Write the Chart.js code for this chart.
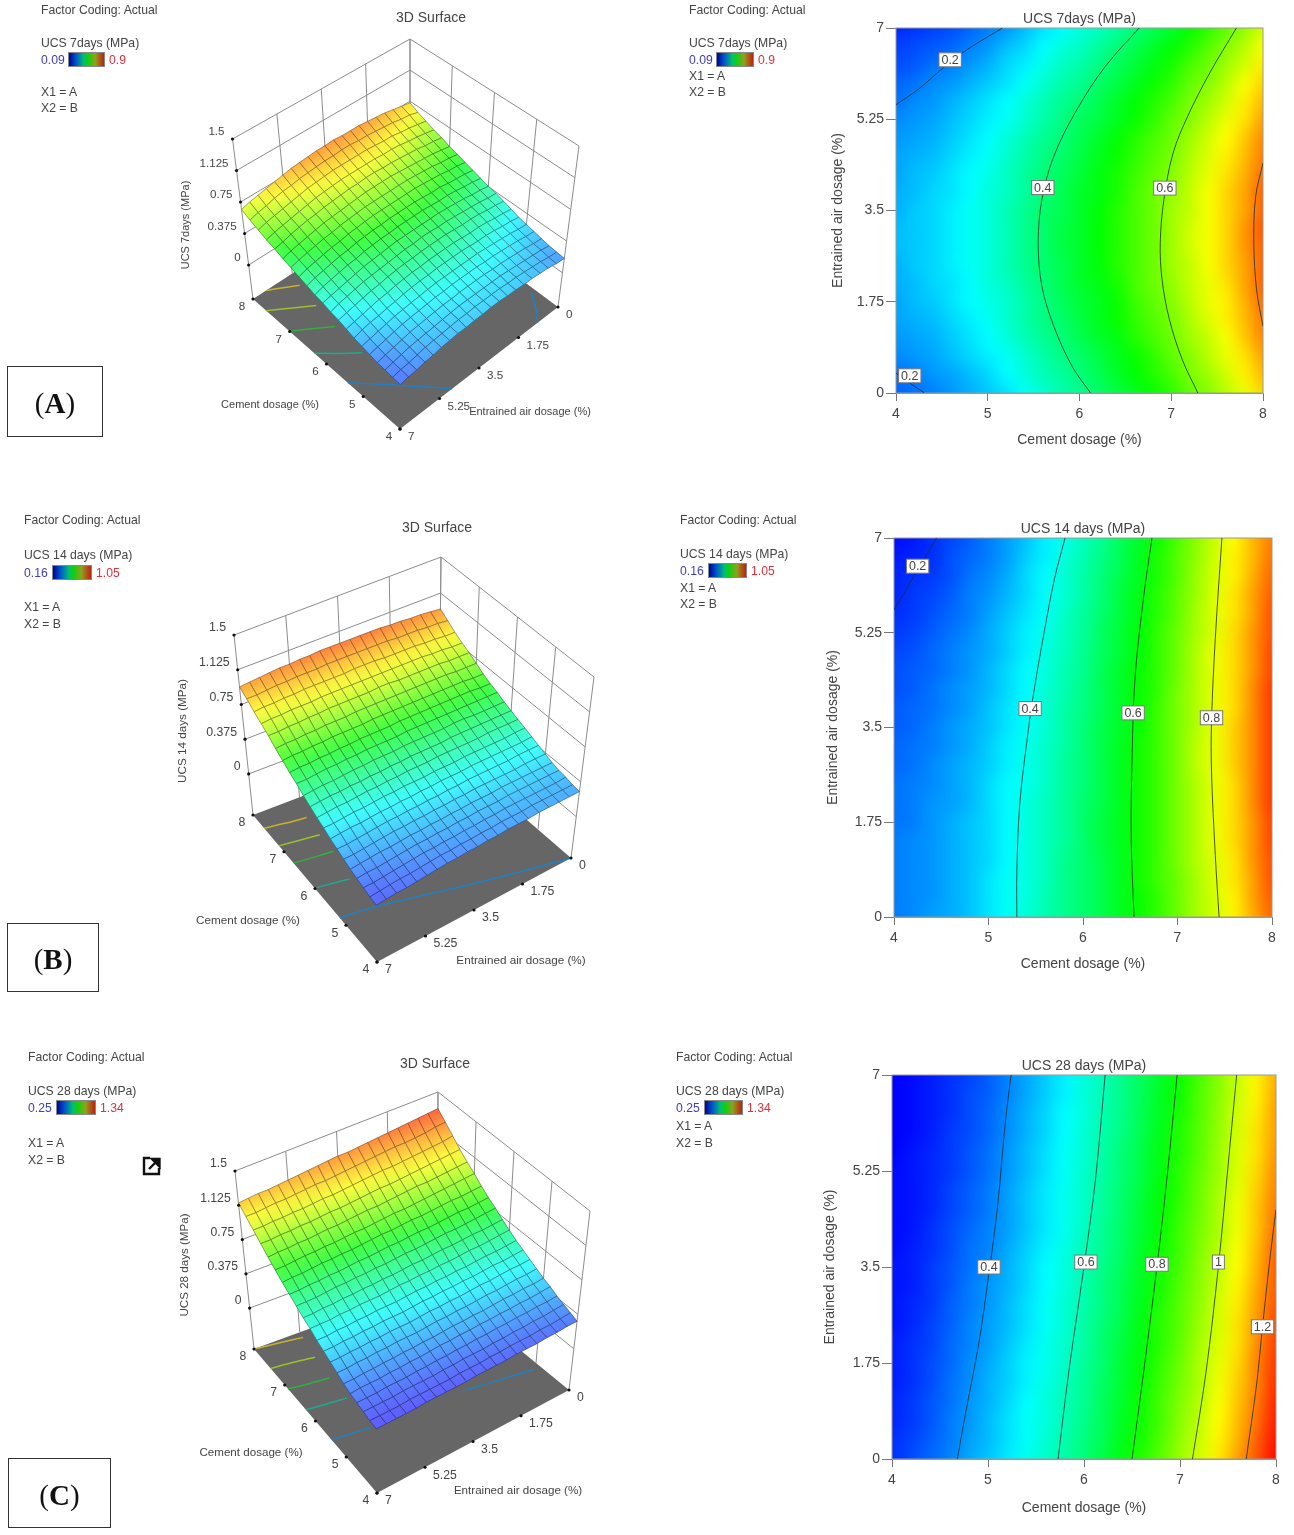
<!DOCTYPE html>
<html>
<head>
<meta charset="utf-8">
<title>UCS response surfaces</title>
<style>
  html, body { margin: 0; padding: 0; background: #fff; overflow: hidden; }
  #page { position: relative; width: 1294px; height: 1535px; filter: blur(0.45px); font-family: "Liberation Sans", Arial, sans-serif; color: #444; }
  .txt { position: absolute; white-space: nowrap; line-height: 14px; }
  .bar { position: absolute; border: 1px solid #888; box-sizing: border-box;
         background: linear-gradient(to right, #0000a0 0%, #0060c8 22%, #00c070 42%, #10d010 55%, #90a020 75%, #c02010 100%); }
  .tag { position: absolute; border: 1px solid #333; box-sizing: border-box; display: flex; align-items: center; justify-content: center;
         font-family: "Liberation Serif", serif; font-size: 29px; color: #111; padding-top: 4px; }
  canvas { position: absolute; }
</style>
</head>
<body>
<div id="page"></div>
<script src="https://cdn.jsdelivr.net/npm/chart.js@4"></script>
<script>
const cementTicks = [4, 5, 6, 7, 8];
const airTicks = [0, 1.75, 3.5, 5.25, 7];
const ucsTicks = [0, 0.375, 0.75, 1.125, 1.5];

// rows are air dosage (0 to 7, 0.35 step), columns are cement dosage (4 to 8, 0.2 step)
const gridCement = [4,4.2,4.4,4.6,4.8,5,5.2,5.4,5.6,5.8,6,6.2,6.4,6.6,6.8,7,7.2,7.4,7.6,7.8,8];
const gridAir = [0,.35,.7,1.05,1.4,1.75,2.1,2.45,2.8,3.15,3.5,3.85,4.2,4.55,4.9,5.25,5.6,5.95,6.3,6.65,7];

const ucs7 = [
[.17,.18,.19,.21,.23,.25,.27,.30,.33,.36,.38,.41,.44,.47,.50,.53,.57,.60,.64,.68,.73],
[.18,.19,.21,.22,.24,.26,.29,.32,.35,.37,.40,.43,.46,.49,.52,.55,.59,.62,.66,.71,.75],
[.20,.21,.22,.24,.26,.28,.30,.33,.36,.39,.41,.44,.47,.50,.53,.57,.60,.64,.68,.72,.77],
[.21,.22,.23,.25,.27,.29,.32,.35,.38,.40,.43,.46,.48,.52,.55,.58,.62,.65,.69,.74,.79],
[.22,.23,.24,.26,.28,.30,.33,.36,.39,.41,.44,.47,.50,.53,.56,.59,.63,.67,.71,.75,.80],
[.22,.24,.25,.27,.29,.31,.33,.36,.39,.42,.45,.47,.50,.54,.57,.60,.64,.68,.71,.76,.81],
[.23,.24,.26,.27,.29,.32,.34,.37,.40,.43,.46,.48,.51,.55,.58,.61,.65,.68,.72,.77,.82],
[.23,.25,.26,.28,.30,.32,.35,.38,.41,.43,.46,.49,.52,.55,.58,.62,.65,.69,.73,.77,.82],
[.24,.25,.26,.28,.30,.32,.35,.38,.41,.44,.46,.49,.52,.55,.58,.62,.66,.69,.73,.78,.82],
[.24,.25,.26,.28,.30,.32,.35,.38,.41,.44,.46,.49,.52,.55,.58,.62,.66,.69,.73,.78,.83],
[.23,.25,.26,.28,.30,.32,.35,.38,.41,.43,.46,.49,.52,.55,.58,.62,.65,.69,.73,.77,.82],
[.23,.24,.26,.27,.29,.32,.34,.37,.40,.43,.46,.48,.51,.55,.58,.61,.65,.69,.73,.77,.82],
[.22,.24,.25,.27,.29,.31,.34,.37,.40,.42,.45,.48,.51,.54,.57,.60,.64,.68,.72,.76,.81],
[.22,.23,.24,.26,.28,.30,.33,.36,.39,.41,.44,.47,.50,.53,.56,.59,.63,.67,.71,.75,.80],
[.21,.22,.23,.25,.27,.29,.32,.35,.38,.40,.43,.46,.49,.52,.55,.58,.62,.66,.70,.74,.79],
[.20,.21,.22,.24,.26,.28,.30,.33,.36,.39,.42,.44,.47,.50,.53,.57,.60,.64,.68,.72,.77],
[.18,.20,.21,.23,.25,.27,.29,.32,.35,.38,.40,.43,.46,.49,.52,.55,.59,.62,.66,.71,.75],
[.17,.18,.20,.21,.23,.25,.27,.30,.33,.36,.38,.41,.44,.47,.50,.53,.57,.60,.64,.69,.73],
[.15,.16,.18,.19,.21,.23,.26,.28,.31,.34,.36,.39,.42,.45,.48,.51,.55,.58,.62,.66,.71],
[.14,.15,.16,.17,.19,.21,.24,.26,.29,.32,.34,.37,.40,.43,.46,.49,.52,.56,.60,.64,.69],
[.12,.13,.14,.15,.17,.19,.21,.24,.27,.29,.32,.34,.37,.40,.43,.46,.50,.53,.57,.61,.66]
];

const ucs14 = [
[.27,.28,.30,.31,.33,.36,.39,.42,.45,.48,.51,.54,.58,.61,.65,.70,.75,.79,.84,.90,.96],
[.27,.28,.29,.31,.33,.36,.39,.41,.45,.48,.51,.54,.58,.61,.65,.70,.75,.79,.84,.91,.97],
[.27,.28,.29,.31,.33,.36,.39,.41,.44,.48,.51,.54,.58,.62,.66,.70,.75,.80,.85,.91,.98],
[.27,.28,.29,.31,.33,.35,.38,.41,.44,.48,.51,.54,.58,.62,.66,.71,.76,.80,.85,.92,.98],
[.27,.28,.29,.31,.33,.35,.38,.41,.44,.47,.51,.55,.58,.62,.66,.71,.76,.81,.86,.92,.99],
[.26,.27,.29,.31,.33,.35,.38,.41,.44,.47,.51,.55,.58,.62,.66,.71,.76,.81,.86,.92,.99],
[.26,.27,.29,.30,.32,.35,.38,.41,.44,.47,.51,.54,.58,.62,.66,.71,.76,.81,.86,.93,1.00],
[.26,.27,.28,.30,.32,.35,.38,.40,.43,.47,.50,.54,.58,.62,.66,.71,.76,.81,.86,.93,1.00],
[.25,.26,.28,.30,.32,.34,.37,.40,.43,.47,.50,.54,.58,.62,.66,.71,.77,.81,.87,.93,1.00],
[.25,.26,.27,.29,.31,.34,.37,.40,.43,.46,.50,.54,.58,.62,.66,.71,.77,.81,.87,.93,1.00],
[.24,.25,.27,.29,.31,.33,.36,.39,.42,.46,.50,.54,.57,.61,.66,.71,.76,.81,.87,.93,1.00],
[.24,.25,.26,.28,.30,.33,.36,.39,.42,.46,.49,.53,.57,.61,.66,.71,.76,.81,.86,.93,1.00],
[.23,.24,.26,.28,.30,.32,.35,.38,.42,.45,.49,.53,.57,.61,.65,.71,.76,.81,.86,.93,1.00],
[.23,.24,.25,.27,.29,.32,.35,.38,.41,.45,.48,.53,.57,.61,.65,.70,.76,.81,.86,.92,.99],
[.22,.23,.25,.27,.29,.31,.34,.37,.41,.44,.48,.52,.56,.60,.65,.70,.76,.81,.86,.92,.99],
[.21,.22,.24,.26,.28,.31,.34,.37,.40,.44,.47,.52,.56,.60,.65,.70,.75,.80,.86,.92,.98],
[.20,.21,.23,.25,.27,.30,.33,.36,.39,.43,.47,.51,.55,.59,.64,.69,.75,.80,.85,.91,.98],
[.19,.21,.22,.24,.27,.29,.32,.35,.39,.42,.46,.50,.55,.59,.64,.69,.74,.80,.85,.91,.97],
[.19,.20,.21,.23,.26,.28,.31,.35,.38,.42,.46,.50,.54,.58,.63,.68,.74,.79,.84,.90,.96],
[.18,.19,.20,.23,.25,.27,.30,.34,.37,.41,.45,.49,.53,.58,.63,.68,.73,.79,.84,.89,.95],
[.17,.18,.20,.22,.24,.27,.30,.33,.37,.40,.44,.48,.53,.57,.62,.67,.73,.78,.83,.89,.94]
];

const ucs28 = [
[.30,.33,.36,.39,.43,.46,.50,.54,.58,.62,.67,.72,.78,.83,.89,.96,1.02,1.09,1.17,1.25,1.33],
[.30,.32,.35,.38,.42,.45,.49,.53,.57,.61,.66,.71,.77,.82,.88,.95,1.01,1.08,1.15,1.24,1.32],
[.29,.31,.34,.38,.41,.45,.49,.53,.56,.60,.65,.70,.76,.81,.87,.94,1.00,1.07,1.14,1.22,1.31],
[.29,.31,.34,.37,.41,.44,.48,.52,.56,.60,.64,.70,.75,.81,.87,.93,.99,1.06,1.13,1.21,1.30],
[.28,.30,.33,.37,.40,.44,.47,.51,.55,.59,.64,.69,.74,.80,.86,.92,.98,1.05,1.12,1.20,1.29],
[.28,.30,.33,.36,.40,.43,.47,.51,.54,.58,.63,.68,.74,.79,.85,.91,.98,1.04,1.11,1.20,1.28],
[.28,.30,.32,.36,.39,.42,.46,.50,.54,.58,.62,.68,.73,.78,.84,.90,.97,1.03,1.10,1.19,1.27],
[.27,.29,.32,.35,.39,.42,.45,.49,.53,.57,.62,.67,.72,.78,.84,.89,.96,1.02,1.10,1.18,1.26],
[.27,.29,.31,.35,.38,.41,.45,.49,.53,.57,.61,.66,.71,.77,.83,.89,.95,1.02,1.09,1.17,1.25],
[.27,.28,.31,.34,.38,.41,.44,.48,.52,.56,.61,.66,.71,.76,.82,.88,.94,1.01,1.08,1.16,1.24],
[.27,.28,.31,.34,.37,.40,.44,.48,.52,.56,.60,.65,.70,.76,.82,.87,.94,1.00,1.07,1.15,1.24],
[.26,.28,.30,.33,.37,.39,.43,.47,.51,.55,.60,.64,.69,.75,.81,.86,.93,.99,1.06,1.14,1.23],
[.26,.27,.30,.33,.36,.39,.42,.46,.50,.54,.59,.64,.69,.74,.80,.86,.92,.98,1.05,1.13,1.22],
[.26,.27,.29,.32,.35,.38,.42,.46,.50,.54,.58,.63,.68,.74,.79,.85,.91,.98,1.05,1.13,1.21],
[.26,.27,.29,.32,.35,.38,.42,.46,.50,.54,.58,.63,.68,.73,.79,.84,.91,.97,1.04,1.12,1.20],
[.26,.27,.29,.31,.34,.37,.41,.45,.49,.53,.58,.62,.67,.72,.78,.84,.90,.96,1.03,1.11,1.19],
[.25,.27,.29,.31,.34,.37,.41,.45,.49,.53,.57,.62,.67,.72,.78,.83,.89,.96,1.03,1.10,1.18],
[.25,.26,.28,.31,.33,.36,.40,.44,.48,.52,.57,.61,.66,.71,.77,.83,.89,.95,1.02,1.10,1.17],
[.25,.26,.28,.30,.33,.36,.40,.44,.48,.52,.56,.61,.65,.71,.76,.82,.88,.95,1.02,1.09,1.17],
[.25,.26,.28,.30,.33,.35,.39,.43,.47,.51,.56,.60,.65,.70,.76,.81,.88,.94,1.01,1.08,1.16],
[.25,.26,.28,.30,.32,.35,.39,.43,.47,.51,.56,.60,.65,.70,.75,.81,.87,.94,1.01,1.08,1.15]
];

const range7 = [0.09, 0.9];
const range14 = [0.16, 1.05];
const range28 = [0.25, 1.34];

// contour lines, [cement, air]
const contours7 = [
  [[4,5.53],[4.24,5.82],[4.51,6.23],[4.77,6.58],[5.16,7]],
  [[4,.38],[4.15,.19],[4.31,0]],
  [[6.12,0],[5.92,.51],[5.72,1.28],[5.59,2.05],[5.55,2.88],[5.59,3.71],[5.72,4.54],[5.97,5.43],[6.28,6.26],[6.65,7]],
  [[7.29,0],[7.12,.64],[6.98,1.41],[6.9,2.17],[6.88,2.88],[6.92,3.71],[7.02,4.6],[7.18,5.31],[7.42,6.14],[7.71,7]],
  [[8,1.28],[7.93,1.98],[7.9,2.88],[7.92,3.77],[8,4.41]]
];
const contours14 = [
  [[4,5.67],[4.2,6.26],[4.45,7]],
  [[5.3,0],[5.3,.83],[5.33,2.07],[5.41,3.3],[5.48,4.16],[5.59,5.27],[5.7,6.26],[5.81,7]],
  [[6.54,0],[6.51,1.45],[6.52,2.99],[6.55,4.41],[6.64,5.89],[6.73,7]],
  [[7.44,0],[7.4,1.14],[7.36,2.68],[7.36,3.61],[7.4,5.15],[7.47,7]]
];
const contours28 = [
  [[4.68,0],[4.78,.96],[4.91,2.17],[5.01,3.39],[5.1,4.61],[5.18,6.13],[5.24,7]],
  [[5.73,0],[5.84,1.57],[6,3.51],[6.12,5.1],[6.22,7]],
  [[6.5,0],[6.62,1.57],[6.76,3.51],[6.87,5.22],[6.97,7]],
  [[7.13,0],[7.27,1.57],[7.4,3.51],[7.51,5.52],[7.59,7]],
  [[7.69,0],[7.8,1.39],[7.86,2.42],[7.94,3.7],[8,4.55]]
];

const labels7 = [[4.59,6.39,'0.2'],[4.15,.33,'0.2'],[5.6,3.94,'0.4'],[6.93,3.93,'0.6']];
const labels14 = [[4.25,6.48,'0.2'],[5.44,3.85,'0.4'],[6.53,3.77,'0.6'],[7.36,3.68,'0.8']];
const labels28 = [[5.01,3.5,'0.4'],[6.02,3.59,'0.6'],[6.76,3.55,'0.8'],[7.4,3.59,'1'],[7.86,2.41,'1.2']];

// contour lines seen on the floor of the 3D plots
const floor7 = [
  [[8,6.41],[7.85,5.9],[7.7,5.41]],
  [[7.64,7],[7.38,6.25],[7.14,5.59]],
  [[7.01,7],[6.76,6.3],[6.54,5.73]],
  [[6.33,7],[6.03,6.4],[5.75,5.81]],
  [[5.42,7],[4.73,5.81],[4,4.69]],
  [[4,.89],[4.3,.5],[4.63,.15]]
];
const floor14 = [
  [[7.64,7],[7.57,6.3],[7.51,5.56]],
  [[7.16,7],[7.1,6.3],[7.04,5.62]],
  [[6.69,7],[6.63,6.3],[6.58,5.65]],
  [[6.01,7],[5.94,6.4],[5.87,5.87]],
  [[5.2,7],[5.07,5.81],[4.63,3.36],[4.28,1.49],[4,0]]
];
const floor28 = [
  [[8,7],[7.93,6.1],[7.86,5.29]],
  [[7.46,7],[7.4,6.2],[7.33,5.47]],
  [[6.89,7],[6.82,6.3],[6.76,5.6]],
  [[6.31,7],[6.24,6.3],[6.18,5.6]],
  [[5.47,7],[5.41,6.3],[5.35,5.7]],
  [[5.17,2.41],[5.02,1.3],[4.88,.22]]
];
const floorColors = ['#c8b030', '#9ac030', '#30b040', '#20a890', '#2080c0', '#2080c0'];

Chart.defaults.font.family = '"Liberation Sans", Arial, sans-serif';
Chart.defaults.color = '#444';
Chart.defaults.animation = false;

const page = document.getElementById('page');

function addCanvas(left, top, w, h) {
  const c = document.createElement('canvas');
  c.width = w;
  c.height = h;
  c.style.left = left + 'px';
  c.style.top = top + 'px';
  page.appendChild(c);
  return c;
}

function addText(x, y, str, color) {
  const d = document.createElement('div');
  d.className = 'txt';
  d.textContent = str;
  d.style.cssText = `left:${x}px;top:${y - 6}px;font-size:12.2px;color:${color || '#444'}`;
  page.appendChild(d);
}

function jet(t) {
  t = Math.max(0, Math.min(1, t));
  const s = t * 4;
  if (s < 1) return [0, 255 * s, 255];
  if (s < 2) return [0, 255, 255 * (2 - s)];
  if (s < 3) return [255 * (s - 2), 255, 0];
  return [255, 255 * (4 - s), 0];
}

// the surface is lit, so its colours are paler than the flat map, most of all in the blues
function litColor(z, range) {
  const c = jet((z - range[0]) / (range[1] - range[0]));
  const extra = 30 * Math.max(0, 1 - c[1] / 255);
  return [c[0] * 0.75 + 64 + extra, Math.min(255, c[1] * 0.75 + 64 + extra), Math.min(255, c[2] * 0.75 + 64)].map(Math.round);
}

// ---- contour panels ----
const heatPlugin = {
  id: 'heat',
  beforeDatasetsDraw(chart, args, opts) {
    const grid = opts.grid, range = opts.range;
    const rows = grid.length, cols = grid[0].length;
    const off = document.createElement('canvas');
    off.width = cols;
    off.height = rows;
    const octx = off.getContext('2d');
    const img = octx.createImageData(cols, rows);
    for (let j = 0; j < rows; j++) {
      for (let i = 0; i < cols; i++) {
        const c = jet((grid[j][i] - range[0]) / (range[1] - range[0]));
        const k = ((rows - 1 - j) * cols + i) * 4;
        img.data[k] = c[0]; img.data[k + 1] = c[1]; img.data[k + 2] = c[2]; img.data[k + 3] = 255;
      }
    }
    octx.putImageData(img, 0, 0);
    const sx = chart.scales.x, sy = chart.scales.y;
    const x0 = sx.getPixelForValue(gridCement[0]), x1 = sx.getPixelForValue(gridCement[cols - 1]);
    const y0 = sy.getPixelForValue(gridAir[rows - 1]), y1 = sy.getPixelForValue(gridAir[0]);
    const ctx = chart.ctx;
    ctx.save();
    ctx.imageSmoothingEnabled = true;
    ctx.imageSmoothingQuality = 'high';
    ctx.drawImage(off, 0.5, 0.5, cols - 1, rows - 1, x0, y0, x1 - x0, y1 - y0);
    ctx.strokeStyle = '#999';
    ctx.lineWidth = 1;
    ctx.strokeRect(x0, y0, x1 - x0, y1 - y0);
    ctx.restore();
  }
};

const labelPlugin = {
  id: 'boxLabels',
  afterDatasetsDraw(chart, args, opts) {
    const ctx = chart.ctx;
    ctx.save();
    ctx.font = '12.5px "Liberation Sans", Arial, sans-serif';
    ctx.textAlign = 'center';
    ctx.textBaseline = 'middle';
    opts.items.forEach(it => {
      const x = chart.scales.x.getPixelForValue(it[0]);
      const y = chart.scales.y.getPixelForValue(it[1]);
      const w = ctx.measureText(it[2]).width + 5;
      ctx.fillStyle = '#fff';
      ctx.fillRect(x - w / 2, y - 7, w, 14);
      ctx.strokeStyle = '#777';
      ctx.lineWidth = 1;
      ctx.strokeRect(x - w / 2, y - 7, w, 14);
      ctx.fillStyle = '#444';
      ctx.fillText(it[2], x, y + 0.5);
    });
    ctx.restore();
  }
};

function contourChart(p) {
  const left = p.left - p.yWidth;
  const top = p.top - 28;
  const w = p.right + 25 - left;
  const h = p.bottom + p.xHeight - top;
  new Chart(addCanvas(left, top, w, h), {
    type: 'scatter',
    data: {
      datasets: p.lines.map(line => ({
        data: line.map(q => ({ x: q[0], y: q[1] })),
        showLine: true,
        pointRadius: 0,
        borderColor: 'rgba(30,45,45,0.8)',
        borderWidth: 1,
        tension: 0.35
      }))
    },
    plugins: [heatPlugin, labelPlugin],
    options: {
      responsive: false,
      layout: { padding: { left: 0, right: 25, top: 10.7, bottom: 0 } },
      scales: {
        x: {
          type: 'linear', min: 4, max: 8,
          afterBuildTicks: s => { s.ticks = cementTicks.map(v => ({ value: v })); },
          afterFit: s => { s.height = p.xHeight; },
          ticks: { font: { size: 14 }, padding: 5, maxRotation: 0, autoSkip: false, callback: v => String(v) },
          grid: { drawOnChartArea: false, tickLength: 8, color: '#777' },
          border: { color: '#999' },
          title: { display: true, text: 'Cement dosage (%)', font: { size: 14 }, padding: 0 }
        },
        y: {
          type: 'linear', min: 0, max: 7,
          afterBuildTicks: s => { s.ticks = airTicks.map(v => ({ value: v })); },
          afterFit: s => { s.width = p.yWidth; },
          ticks: { font: { size: 14 }, padding: 2, autoSkip: false, callback: v => String(v) },
          grid: { drawOnChartArea: false, tickLength: 10, color: '#777' },
          border: { color: '#999' },
          title: { display: true, text: 'Entrained air dosage (%)', font: { size: 14 }, padding: 0 }
        }
      },
      plugins: {
        legend: { display: false },
        tooltip: { enabled: false },
        title: { display: true, text: p.title, fullSize: false, font: { size: 14, weight: 'normal' }, color: '#444', padding: { top: 0, bottom: 0.5 } },
        heat: { grid: p.grid, range: p.range },
        boxLabels: { items: p.labels }
      }
    }
  });
}

// ---- 3D panels ----
function projector(box) {
  return function (a, b, level) {
    const u = (a - 4) / 4, v = b / 7;
    const mix = c => [
      c.right[0] * (1 - u) * (1 - v) + c.back[0] * u * (1 - v) + c.left[0] * u * v + c.front[0] * (1 - u) * v,
      c.right[1] * (1 - u) * (1 - v) + c.back[1] * u * (1 - v) + c.left[1] * u * v + c.front[1] * (1 - u) * v
    ];
    const f = mix(box.floor), t = mix(box.top);
    return { x: f[0] + (t[0] - f[0]) * level, y: f[1] + (t[1] - f[1]) * level };
  };
}

function surfaceChart(p) {
  const project = projector(p.box);
  const levelOf = z => p.box.zero + (1 - p.box.zero) * z / 1.5;
  const cx = 170, cw = 450, cy = p.canvasTop, ch = p.canvasHeight;

  const backdrop = {
    id: 'backdrop',
    beforeDatasetsDraw(chart) {
      const ctx = chart.ctx, sx = chart.scales.x, sy = chart.scales.y;
      const pt = q => [sx.getPixelForValue(q.x), sy.getPixelForValue(q.y)];
      const seg = (a, b) => {
        const m = pt(a), n = pt(b);
        ctx.beginPath(); ctx.moveTo(m[0], m[1]); ctx.lineTo(n[0], n[1]); ctx.stroke();
      };
      ctx.save();
      // floor
      ctx.fillStyle = '#666';
      ctx.beginPath();
      [[4, 0], [8, 0], [8, 7], [4, 7]].forEach((c, n) => {
        const q = pt(project(c[0], c[1], 0));
        if (n) ctx.lineTo(q[0], q[1]); else ctx.moveTo(q[0], q[1]);
      });
      ctx.closePath();
      ctx.fill();
      // walls
      ctx.strokeStyle = '#8c8c8c';
      ctx.lineWidth = 1;
      airTicks.forEach(b => seg(project(8, b, 0), project(8, b, 1)));
      cementTicks.forEach(a => seg(project(a, 0, 0), project(a, 0, 1)));
      ucsTicks.forEach(z => {
        seg(project(8, 7, levelOf(z)), project(8, 0, levelOf(z)));
        seg(project(8, 0, levelOf(z)), project(4, 0, levelOf(z)));
      });
      ctx.restore();
    },
    afterDatasetsDraw(chart) {
      const ctx = chart.ctx, sx = chart.scales.x, sy = chart.scales.y;
      const pt = q => [sx.getPixelForValue(q.x), sy.getPixelForValue(q.y)];
      const css = c => `rgb(${c[0]},${c[1]},${c[2]})`;
      const node = (i, j) => pt(project(gridCement[i], gridAir[j], levelOf(p.grid[j][i])));
      ctx.save();
      // surface, far corner first
      ctx.lineWidth = 0.7;
      ctx.lineJoin = 'round';
      for (let i = gridCement.length - 2; i >= 0; i--) {
        for (let j = 0; j < gridAir.length - 1; j++) {
          const n00 = node(i, j), n10 = node(i + 1, j), n11 = node(i + 1, j + 1), n01 = node(i, j + 1);
          ctx.beginPath();
          ctx.moveTo(n00[0], n00[1]);
          ctx.lineTo(n10[0], n10[1]);
          ctx.lineTo(n11[0], n11[1]);
          ctx.lineTo(n01[0], n01[1]);
          ctx.closePath();
          // shade across the cell, low cement edge to high cement edge
          const zLow = (p.grid[j][i] + p.grid[j + 1][i]) / 2;
          const zHigh = (p.grid[j][i + 1] + p.grid[j + 1][i + 1]) / 2;
          const g = ctx.createLinearGradient(
            (n00[0] + n01[0]) / 2, (n00[1] + n01[1]) / 2,
            (n10[0] + n11[0]) / 2, (n10[1] + n11[1]) / 2);
          g.addColorStop(0, css(litColor(zLow, p.range)));
          g.addColorStop(1, css(litColor(zHigh, p.range)));
          ctx.fillStyle = g;
          ctx.fill();
          const c = litColor((zLow + zHigh) / 2, p.range);
          ctx.strokeStyle = css(c.map(v => v * 0.52 | 0));
          ctx.stroke();
        }
      }
      // tick dots and labels
      ctx.fillStyle = '#111';
      const dot = q => {
        const m = pt(q);
        ctx.beginPath(); ctx.arc(m[0], m[1], 1.6, 0, Math.PI * 2); ctx.fill();
      };
      cementTicks.forEach(a => dot(project(a, 7, 0)));
      airTicks.forEach(b => dot(project(4, b, 0)));
      ucsTicks.forEach(z => dot(project(8, 7, levelOf(z))));
      ctx.fillStyle = '#444';
      ctx.font = (p.axisFont + 0.6) + 'px "Liberation Sans", Arial, sans-serif';
      ctx.textBaseline = 'middle';
      ctx.textAlign = 'center';
      cementTicks.forEach(a => {
        const m = pt(project(a, 7, 0));
        ctx.fillText(String(a), m[0] - 11, m[1] + 8);
      });
      ctx.textAlign = 'left';
      airTicks.forEach(b => {
        const m = pt(project(4, b, 0));
        ctx.fillText(String(b), m[0] + 8, m[1] + 8);
      });
      ctx.textAlign = 'right';
      ucsTicks.forEach(z => {
        const m = pt(project(8, 7, levelOf(z)));
        ctx.fillText(String(z), m[0] - 8, m[1] - 7);
      });
      // titles
      ctx.textAlign = 'center';
      ctx.font = '14px "Liberation Sans", Arial, sans-serif';
      ctx.fillText('3D Surface', sx.getPixelForValue(p.titleAt[0]), sy.getPixelForValue(p.titleAt[1]));
      ctx.font = p.axisFont + 'px "Liberation Sans", Arial, sans-serif';
      ctx.fillText('Cement dosage (%)', sx.getPixelForValue(p.cementAt[0]), sy.getPixelForValue(p.cementAt[1]));
      ctx.fillText('Entrained air dosage (%)', sx.getPixelForValue(p.airAt[0]), sy.getPixelForValue(p.airAt[1]));
      ctx.translate(sx.getPixelForValue(p.ucsAt[0]), sy.getPixelForValue(p.ucsAt[1]));
      ctx.rotate(-Math.PI / 2);
      ctx.fillText(p.ucsTitle, 0, 0);
      ctx.restore();
    }
  };

  new Chart(addCanvas(cx, cy, cw, ch), {
    type: 'scatter',
    data: {
      datasets: p.floorLines.map((line, n) => ({
        data: line.map(q => project(q[0], q[1], 0)),
        showLine: true,
        pointRadius: 0,
        borderColor: floorColors[n],
        borderWidth: 1.5,
        tension: 0.3
      }))
    },
    plugins: [backdrop],
    options: {
      responsive: false,
      layout: { padding: 0 },
      scales: {
        x: { type: 'linear', display: false, min: cx, max: cx + cw },
        y: { type: 'linear', display: false, min: cy, max: cy + ch, reverse: true }
      },
      plugins: { legend: { display: false }, tooltip: { enabled: false } }
    }
  });
}

surfaceChart({
  grid: ucs7, range: range7, floorLines: floor7, ucsTitle: 'UCS 7days (MPa)', axisFont: 11,
  canvasTop: 0, canvasHeight: 450,
  titleAt: [431, 18], cementAt: [270, 405], airAt: [530, 412], ucsAt: [186, 225],
  box: {
    zero: 0.2125,
    floor: { left: [253, 299], front: [400, 429], right: [558, 307], back: [410, 197] },
    top: { left: [232.5, 139], front: [401, 268], right: [579, 146], back: [410, 39] }
  }
});
surfaceChart({
  grid: ucs14, range: range14, floorLines: floor14, ucsTitle: 'UCS 14 days (MPa)', axisFont: 11.7,
  canvasTop: 510, canvasHeight: 480,
  titleAt: [437, 528], cementAt: [248, 921], airAt: [521, 961], ucsAt: [183, 731],
  box: {
    zero: 0.228,
    floor: { left: [253, 815], front: [377, 962], right: [571, 858], back: [439, 744] },
    top: { left: [234, 635], front: [375, 782], right: [594, 677], back: [441, 557] }
  }
});
surfaceChart({
  grid: ucs28, range: range28, floorLines: floor28, ucsTitle: 'UCS 28 days (MPa)', axisFont: 11.6,
  canvasTop: 1045, canvasHeight: 480,
  titleAt: [435, 1064], cementAt: [251, 1453], airAt: [518, 1491], ucsAt: [185, 1265],
  box: {
    zero: 0.23,
    floor: { left: [254, 1349], front: [377, 1493], right: [569, 1390], back: [437, 1282] },
    top: { left: [235, 1171], front: [375, 1314], right: [590, 1211], back: [438, 1092] }
  }
});

contourChart({ grid: ucs7, range: range7, lines: contours7, labels: labels7, title: 'UCS 7days (MPa)', left: 896, right: 1263, top: 28, bottom: 393, yWidth: 66, xHeight: 56 });
contourChart({ grid: ucs14, range: range14, lines: contours14, labels: labels14, title: 'UCS 14 days (MPa)', left: 894, right: 1272, top: 538, bottom: 917, yWidth: 69, xHeight: 56 });
contourChart({ grid: ucs28, range: range28, lines: contours28, labels: labels28, title: 'UCS 28 days (MPa)', left: 892, right: 1276, top: 1075, bottom: 1459, yWidth: 70, xHeight: 58 });

// ---- legends ----
function legendBlock(b) {
  addText(b.x, b.rows[0], 'Factor Coding: Actual');
  addText(b.x, b.rows[1], b.name);
  addText(b.x, b.rows[2], b.low, '#3c3ccc');
  const bar = document.createElement('div');
  bar.className = 'bar';
  bar.style.cssText = `left:${b.bar[0]}px;top:${b.rows[2] - 7}px;width:${b.bar[1] - b.bar[0]}px;height:15px`;
  page.appendChild(bar);
  addText(b.bar[1] + 4, b.rows[2], b.high, '#e0303c');
  addText(b.x, b.rows[3], 'X1 = A');
  addText(b.x, b.rows[4], 'X2 = B');
}
legendBlock({ x: 41, rows: [9, 42, 59, 91, 107], bar: [68, 105], name: 'UCS 7days (MPa)', low: '0.09', high: '0.9' });
legendBlock({ x: 689, rows: [9, 42, 59, 75, 91], bar: [716, 754], name: 'UCS 7days (MPa)', low: '0.09', high: '0.9' });
legendBlock({ x: 24, rows: [519, 554, 572, 606, 623], bar: [52, 92], name: 'UCS 14 days (MPa)', low: '0.16', high: '1.05' });
legendBlock({ x: 680, rows: [519, 553, 570, 587, 603], bar: [708, 747], name: 'UCS 14 days (MPa)', low: '0.16', high: '1.05' });
legendBlock({ x: 28, rows: [1056, 1090, 1107, 1142, 1159], bar: [56, 96], name: 'UCS 28 days (MPa)', low: '0.25', high: '1.34' });
legendBlock({ x: 676, rows: [1056, 1090, 1107, 1125, 1142], bar: [704, 743], name: 'UCS 28 days (MPa)', low: '0.25', high: '1.34' });

function tagBox(left, top, right, bottom, letter) {
  const d = document.createElement('div');
  d.className = 'tag';
  d.style.cssText = `left:${left}px;top:${top}px;width:${right - left}px;height:${bottom - top}px`;
  d.innerHTML = `(<b>${letter}</b>)`;
  page.appendChild(d);
}
tagBox(7, 366, 103, 437, 'A');
tagBox(7, 923, 99, 992, 'B');
tagBox(8, 1458, 111, 1528, 'C');

// small "open" icon next to the last plot
const icon = document.createElement('div');
icon.style.cssText = 'position:absolute;left:142px;top:1156px;width:20px;height:20px';
icon.innerHTML = '<svg width="20" height="20" viewBox="0 0 20 20"><path d="M8 2H2v16h15v-6" fill="none" stroke="#111" stroke-width="2.4"/><path d="M7 13l8-8M10 3h7.5v7.5z" stroke="#111" stroke-width="2.4" fill="#111"/></svg>';
page.appendChild(icon);
</script>
</body>
</html>
